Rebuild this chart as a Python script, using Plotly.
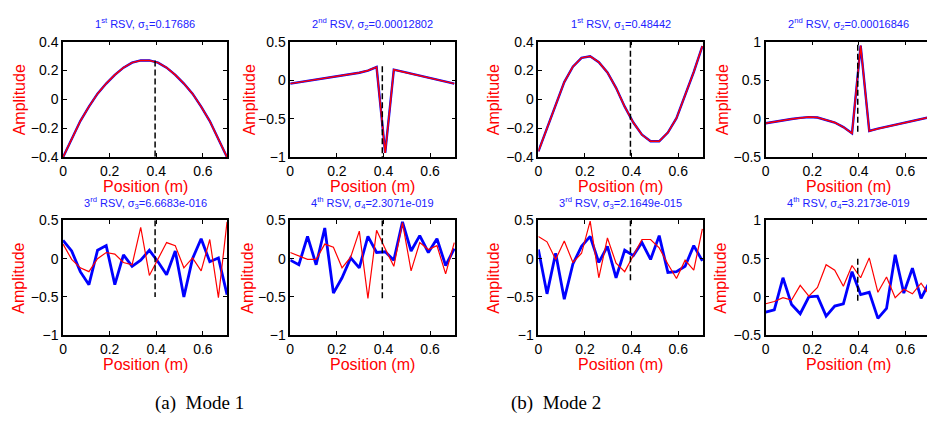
import plotly.graph_objects as go

# ---------------- data ----------------
positions = [0.0, 0.0370, 0.0741, 0.1111, 0.1481, 0.1852, 0.2222, 0.2593, 0.2963, 0.3333,
             0.3704, 0.4074, 0.4444, 0.4815, 0.5185, 0.5556, 0.5926, 0.6296, 0.6667, 0.7037]

# Mode 1
m1_rsv1 = [-0.40, -0.27, -0.15, -0.05, 0.04, 0.11, 0.17, 0.22, 0.255, 0.27,
           0.27, 0.255, 0.22, 0.17, 0.11, 0.04, -0.05, -0.15, -0.27, -0.40]
m1_rsv2 = [-0.045, -0.028, -0.012, 0.004, 0.02, 0.037, 0.055, 0.075, 0.097, 0.125,
           0.17, -0.946, 0.136, 0.11, 0.084, 0.058, 0.032, 0.006, -0.02, -0.045]
m1_rsv3_blue = [0.24, 0.10, -0.17, -0.34, 0.11, 0.17, -0.34, 0.05, -0.10, -0.02,
                0.11, -0.04, -0.21, 0.10, -0.50, 0.0, 0.26, -0.04, 0.01, -0.47]
m1_rsv3_red = [0.19, -0.01, -0.12, -0.17, 0.0, 0.08, 0.06, -0.05, -0.08, 0.41,
               -0.22, -0.01, 0.21, 0.17, -0.12, 0.01, -0.16, 0.25, -0.51, 0.48]
m1_rsv4_blue = [-0.02, -0.08, 0.29, -0.08, 0.40, -0.45, -0.25, 0.01, -0.12, 0.29,
                0.08, 0.09, -0.02, 0.48, 0.10, 0.30, 0.08, 0.26, -0.09, 0.13]
m1_rsv4_red = [0.08, 0.03, -0.01, -0.01, 0.19, 0.15, -0.12, 0.02, 0.36, -0.52,
               0.37, 0.13, -0.10, 0.47, -0.16, 0.21, 0.12, 0.17, -0.20, 0.21]

# Mode 2
m2_rsv1 = [-0.36, -0.20, -0.04, 0.12, 0.227, 0.288, 0.299, 0.258, 0.187, 0.08,
           -0.05, -0.16, -0.245, -0.29, -0.29, -0.23, -0.13, 0.03, 0.19, 0.37]
m2_rsv2 = [-0.06, -0.04, -0.02, -0.005, 0.01, 0.02, 0.015, -0.015, -0.05, -0.11,
           -0.19, 0.95, -0.16, -0.13, -0.105, -0.08, -0.055, -0.03, -0.005, 0.02]
m2_rsv3_blue = [0.12, -0.46, 0.07, -0.53, -0.07, 0.16, 0.29, -0.05, 0.16, -0.25,
                0.11, 0.04, 0.21, -0.01, 0.30, -0.18, -0.17, -0.10, 0.17, -0.03]
m2_rsv3_red = [0.29, 0.22, -0.01, 0.23, -0.05, 0.07, 0.49, -0.25, 0.27, -0.06,
               -0.17, 0.05, 0.25, 0.25, 0.14, -0.07, -0.26, -0.02, -0.15, 0.39]
m2_rsv4_blue = [-0.20, -0.17, 0.25, -0.10, -0.22, 0.0, 0.01, -0.25, -0.12, -0.09,
                0.33, 0.03, 0.06, -0.28, -0.15, 0.55, 0.05, 0.375, -0.02, 0.20]
m2_rsv4_red = [-0.09, -0.06, -0.01, -0.04, 0.15, 0.01, 0.125, 0.42, 0.35, 0.14,
               0.41, 0.25, 0.51, 0.06, 0.26, -0.01, 0.10, 0.04, 0.18, 0.02]

# damage location marker (x) and its vertical extent per panel
marker_x = 0.395
marker_y = [[0.27, -0.4], [0.18, -1.0], [0.4, -0.4], [0.96, -0.19],
            [0.5, -0.5], [0.5, -0.53], [0.5, -0.3], [0.5, -0.09]]

titles = ["1<sup>st</sup> RSV, σ<sub>1</sub>=0.17686",
          "2<sup>nd</sup> RSV, σ<sub>2</sub>=0.00012802",
          "1<sup>st</sup> RSV, σ<sub>1</sub>=0.48442",
          "2<sup>nd</sup> RSV, σ<sub>2</sub>=0.00016846",
          "3<sup>rd</sup> RSV, σ<sub>3</sub>=6.6683e-016",
          "4<sup>th</sup> RSV, σ<sub>4</sub>=2.3071e-019",
          "3<sup>rd</sup> RSV, σ<sub>3</sub>=2.1649e-015",
          "4<sup>th</sup> RSV, σ<sub>4</sub>=3.2173e-019"]

captions = ["(a)  Mode 1", "(b)  Mode 2"]
x_ticks = [0, 0.2, 0.4, 0.6]

# ---------------- layout geometry (pixels) ----------------
W, H = 927, 424
col_lr = [(59.3, 224.0), (287.5, 453.3), (536.7, 702.3), (765.0, 927.0)]
row_tb = [(35.0, 155.0), (220.7, 340.0)]
ylab_x = [[15, 246, 492, 722], [15, 245, 492, 720]]
xlab_y = [185, 370]

blue_series = [m1_rsv1, m1_rsv2, m2_rsv1, m2_rsv2, m1_rsv3_blue, m1_rsv4_blue, m2_rsv3_blue, m2_rsv4_blue]
red_series = [m1_rsv1, m1_rsv2, m2_rsv1, m2_rsv2, m1_rsv3_red, m1_rsv4_red, m2_rsv3_red, m2_rsv4_red]
yranges = [[-0.4, 0.4], [-1, 0.5], [-0.4, 0.4], [-0.5, 1],
           [-1, 0.5], [-1, 0.5], [-1, 0.5], [-0.5, 1]]
ydticks = [0.2, 0.5, 0.2, 0.5, 0.5, 0.5, 0.5, 0.5]

FONT = "Liberation Sans, Arial, Helvetica, sans-serif"
fig = go.Figure()
layout = dict(width=W, height=H, margin=dict(l=0, r=0, t=0, b=0),
              paper_bgcolor="white", plot_bgcolor="white", showlegend=False,
              font=dict(family=FONT, color="black"))
annotations = []
px_per_unit = (col_lr[0][1] - col_lr[0][0]) / positions[-1]

for k in range(8):
    row = 0 if k < 4 else 1
    col = k % 4
    l, r = col_lr[col]
    t, b = row_tb[row]
    xa = "xaxis" if k == 0 else f"xaxis{k+1}"
    ya = "yaxis" if k == 0 else f"yaxis{k+1}"
    xr = "x" if k == 0 else f"x{k+1}"
    yr = "y" if k == 0 else f"y{k+1}"
    xmax = (r - l) / px_per_unit
    last_col = (col == 3)
    layout[xa] = dict(domain=[l / W, r / W], anchor=yr, range=[0, xmax],
                      tickvals=x_ticks, ticktext=["0", "0.2", "0.4", "0.6"],
                      ticks="inside", ticklen=4, tickwidth=1, tickcolor="black",
                      showline=True, linecolor="black", linewidth=1.5,
                      mirror="ticks", showgrid=False, zeroline=False,
                      tickfont=dict(size=14, family=FONT, color="black"))
    layout[ya] = dict(domain=[1 - b / H, 1 - t / H], anchor=xr, range=yranges[k],
                      dtick=ydticks[k], tick0=0,
                      ticks="inside", ticklen=4, tickwidth=1, tickcolor="black",
                      showline=True, linecolor="black", linewidth=1.5,
                      mirror=False if last_col else "ticks", showgrid=False, zeroline=False,
                      tickfont=dict(size=14, family=FONT, color="black"))
    thick = 2.4 if row == 0 else 2.8
    thin = 1.5 if row == 0 else 1.2
    fig.add_trace(go.Scatter(x=positions, y=blue_series[k], mode="lines",
                             line=dict(color="#0000ff", width=thick), xaxis=xr, yaxis=yr))
    fig.add_trace(go.Scatter(x=positions, y=red_series[k], mode="lines",
                             line=dict(color="#ff0000", width=thin), xaxis=xr, yaxis=yr))
    fig.add_trace(go.Scatter(x=[marker_x, marker_x], y=marker_y[k], mode="lines",
                             line=dict(color="black", width=1.5, dash="6px,3px"),
                             xaxis=xr, yaxis=yr))
    # subplot title
    annotations.append(dict(text=titles[k], x=(l + 82.8) / W,
                            y=1 - (t - 18) / H, xref="paper", yref="paper",
                            showarrow=False, xanchor="center", yanchor="middle",
                            font=dict(size=11, color="#2020ff", family=FONT)))
    # axis labels
    annotations.append(dict(text="Amplitude", x=ylab_x[row][col] / W, y=1 - (t + b) / 2 / H,
                            xref="paper", yref="paper", showarrow=False, textangle=-90,
                            xanchor="center", yanchor="middle",
                            font=dict(size=16, color="#ff0000", family=FONT)))
    annotations.append(dict(text="Position (m)", x=(l + 82.8) / W, y=1 - xlab_y[row] / H,
                            xref="paper", yref="paper", showarrow=False,
                            xanchor="center", yanchor="middle",
                            font=dict(size=16, color="#ff0000", family=FONT)))

for cx, cap in zip([196, 554], captions):
    annotations.append(dict(text=cap, x=cx / W, y=1 - 410 / H, xref="paper", yref="paper",
                            showarrow=False, xanchor="center", yanchor="middle",
                            font=dict(size=19, color="black",
                                      family="Liberation Serif, Times New Roman, serif")))

layout["annotations"] = annotations
fig.update_layout(**layout)
fig.write_html("out.html", config={"displayModeBar": False},
               post_script="document.body.style.margin='0';")
